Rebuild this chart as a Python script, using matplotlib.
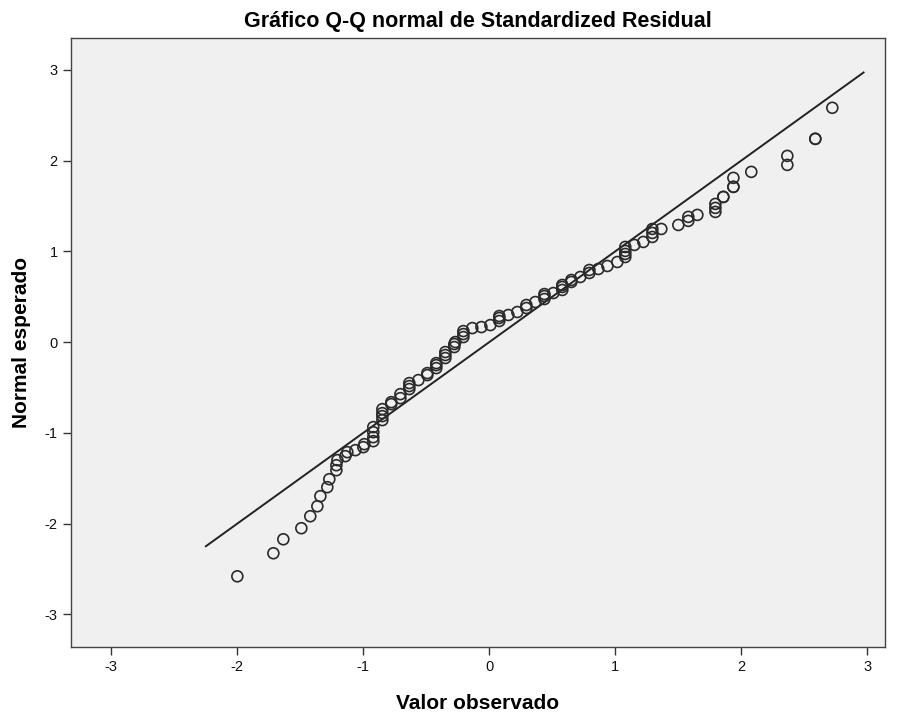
import matplotlib.pyplot as plt
import numpy as np

observado = [-2.000, -1.714, -1.635, -1.492, -1.421, -1.365, -1.341, -1.286, -1.270, -1.214,
             -1.214, -1.206, -1.143, -1.127, -1.063, -1.000, -0.992, -0.921, -0.921, -0.921,
             -0.921, -0.849, -0.849, -0.849, -0.849, -0.778, -0.778, -0.706, -0.706, -0.635,
             -0.635, -0.635, -0.563, -0.492, -0.492, -0.421, -0.421, -0.421, -0.349, -0.349,
             -0.349, -0.278, -0.278, -0.270, -0.206, -0.206, -0.206, -0.135, -0.063, 0.008,
             0.079, 0.079, 0.079, 0.151, 0.222, 0.294, 0.294, 0.365, 0.437, 0.437,
             0.437, 0.508, 0.579, 0.579, 0.579, 0.651, 0.651, 0.722, 0.794, 0.794,
             0.865, 0.937, 1.016, 1.079, 1.079, 1.079, 1.079, 1.151, 1.222, 1.294,
             1.294, 1.294, 1.365, 1.500, 1.579, 1.579, 1.651, 1.794, 1.794, 1.794,
             1.857, 1.857, 1.937, 1.937, 1.937, 2.079, 2.365, 2.365, 2.587, 2.587,
             2.722]
esperado = [-2.581, -2.327, -2.173, -2.051, -1.919, -1.809, -1.698, -1.599, -1.511, -1.412,
            -1.357, -1.301, -1.257, -1.213, -1.191, -1.158, -1.125, -1.092, -1.048, -0.993,
            -0.937, -0.860, -0.816, -0.783, -0.739, -0.684, -0.662, -0.618, -0.574, -0.518,
            -0.485, -0.452, -0.419, -0.364, -0.342, -0.287, -0.254, -0.232, -0.176, -0.143,
            -0.110, -0.055, -0.022, 0.000, 0.055, 0.088, 0.121, 0.154, 0.165, 0.187,
            0.232, 0.265, 0.287, 0.298, 0.331, 0.375, 0.408, 0.441, 0.474, 0.507,
            0.529, 0.540, 0.574, 0.607, 0.629, 0.662, 0.684, 0.717, 0.761, 0.794,
            0.805, 0.838, 0.882, 0.937, 0.971, 1.004, 1.048, 1.070, 1.103, 1.158,
            1.202, 1.246, 1.246, 1.290, 1.335, 1.379, 1.401, 1.434, 1.478, 1.522,
            1.599, 1.599, 1.710, 1.710, 1.809, 1.875, 1.952, 2.051, 2.239, 2.239,
            2.581]

# extremos de la recta de referencia (y = x)
linea_x = [-2.25, 2.97]
ticks = [-3, -2, -1, 0, 1, 2, 3]

plt.rcParams['font.family'] = ['Liberation Sans', 'DejaVu Sans']
plt.rcParams['axes.unicode_minus'] = False

fig = plt.figure(figsize=(8.99, 7.17), dpi=100)
ax = fig.add_axes([0.079, 0.0976, 0.9054, 0.8494])
ax.set_facecolor('#f0f0f0')

ax.plot(linea_x, linea_x, color='#222222', linewidth=1.4, zorder=2)
ax.scatter(observado, esperado, s=62, facecolors='none', edgecolors='#2a2a2a',
           linewidths=1.2, zorder=3)

ax.set_xlim(-3.32, 3.14)
ax.set_ylim(-3.36, 3.35)
ax.set_xticks(ticks)
ax.set_yticks(ticks)
ax.tick_params(direction='out', length=6, width=1, colors='#333333', labelsize=10.5,
               labelcolor='#111111')
for s in ax.spines.values():
    s.set_color('#444444')
    s.set_linewidth(1)

ax.set_title('Gráfico Q-Q normal de Standardized Residual', fontsize=15.5,
             fontweight='bold', pad=8)
ax.set_xlabel('Valor observado', fontsize=15, fontweight='bold', labelpad=14)
ax.set_ylabel('Normal esperado', fontsize=15, fontweight='bold', labelpad=10)

fig.savefig('out.png', dpi=100)
